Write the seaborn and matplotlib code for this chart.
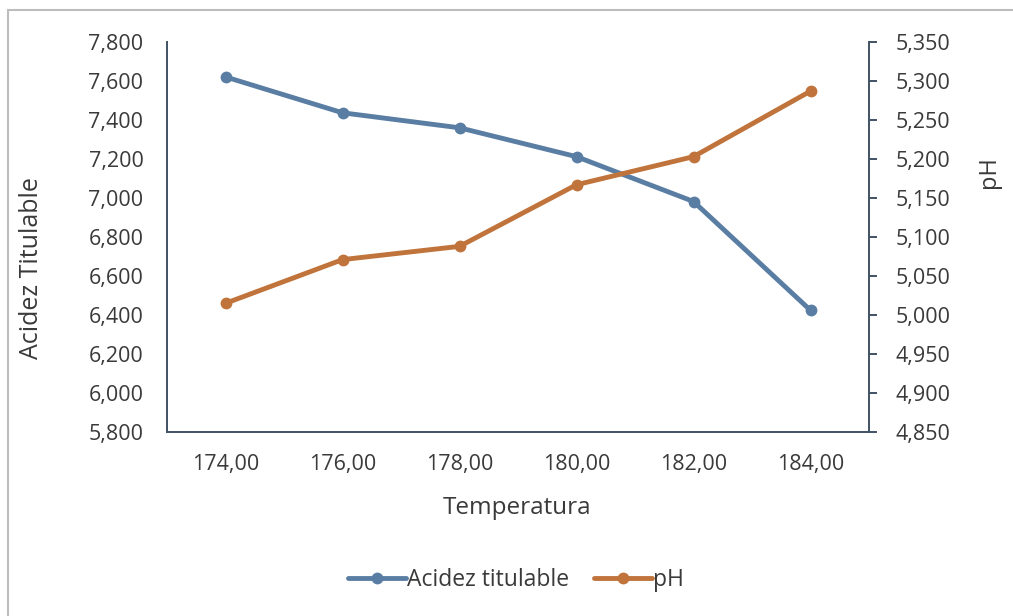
import matplotlib
matplotlib.use("Agg")
import matplotlib.pyplot as plt
import matplotlib.ticker as mticker
from matplotlib.lines import Line2D
import seaborn as sns
import pandas as pd

# Temperature levels and measured responses
temperatura = [174.0, 176.0, 178.0, 180.0, 182.0, 184.0]
acidez = [7.621, 7.437, 7.360, 7.212, 6.982, 6.424]
ph = [5.015, 5.071, 5.088, 5.167, 5.203, 5.287]

temp_labels = [f"{t:.2f}".replace(".", ",") for t in temperatura]

sns.set_theme(style="white")
plt.rcParams["font.family"] = ["Open Sans", "DejaVu Sans"]

blue = "#5a7ea3"
orange = "#c0743b"
spine_col = "#3f5263"
text_col = "#3a3a3a"

df = pd.DataFrame({"pos": range(len(temperatura)), "acidez": acidez, "ph": ph})

fig = plt.figure(figsize=(10.13, 6.16), dpi=100)
L, R, T, B = 167, 869, 42, 432
ax = fig.add_axes([L / 1013, 1 - B / 616, (R - L) / 1013, (B - T) / 616])
ax2 = ax.twinx()

sns.lineplot(data=df, x="pos", y="acidez", ax=ax, color=blue, lw=3.5,
             marker="o", markersize=8.5, markeredgewidth=0)
sns.lineplot(data=df, x="pos", y="ph", ax=ax2, color=orange, lw=3.5,
             marker="o", markersize=8.5, markeredgewidth=0)

ax.set_xlim(-0.5, len(temperatura) - 0.5)
ax.set_xticks(range(len(temperatura)))
ax.set_xticklabels(temp_labels)

ax.set_ylim(5.8, 7.8)
ax.yaxis.set_major_locator(mticker.MultipleLocator(0.2))
ax2.set_ylim(4.85, 5.35)
ax2.yaxis.set_major_locator(mticker.MultipleLocator(0.05))

comma3 = mticker.FuncFormatter(lambda v, p: f"{v:.3f}".replace(".", ","))
ax.yaxis.set_major_formatter(comma3)
ax2.yaxis.set_major_formatter(comma3)

for a in (ax, ax2):
    for s in a.spines.values():
        s.set_visible(False)
ax.spines["left"].set_visible(True)
ax.spines["bottom"].set_visible(True)
ax2.spines["right"].set_visible(True)
for s in (ax.spines["left"], ax.spines["bottom"], ax2.spines["right"]):
    s.set_color(spine_col)
    s.set_linewidth(1.4)

tick_fs = 15.5
ax.tick_params(axis="y", length=0, labelsize=tick_fs, labelcolor=text_col, pad=17)
ax.tick_params(axis="x", length=0, labelsize=tick_fs, labelcolor=text_col, pad=16)
ax2.tick_params(axis="y", length=6, width=1.4, color=spine_col, direction="out",
                labelsize=tick_fs, labelcolor=text_col, pad=13)

label_fs = 18
ax.set_xlabel("Temperatura", fontsize=17.5, color=text_col)
ax.set_ylabel("Acidez Titulable", fontsize=label_fs, color=text_col)
ax2.set_ylabel("pH", fontsize=17, color=text_col)
w, h = R - L, B - T
ax.xaxis.set_label_coords((517 - L) / w, (B - 496) / h)
ax.yaxis.set_label_coords((44 - L) / w, (B - 268) / h)
ax2.yaxis.set_label_coords((977 - L) / w, (B - 172) / h)

handles = [
    Line2D([], [], color=blue, lw=3.5, marker="o", markersize=8.5, markeredgewidth=0),
    Line2D([], [], color=orange, lw=3.5, marker="o", markersize=8.5, markeredgewidth=0),
]
fig.legend(handles, ["Acidez titulable", "pH"], loc="center",
           bbox_to_anchor=(516 / 1013, 1 - 580 / 616), ncol=2, frameon=False,
           fontsize=16.5, labelcolor=text_col, handlelength=2.5,
           handletextpad=0.05, columnspacing=1.1)

# light frame around the chart area
fig.add_artist(Line2D([8 / 1013, 8 / 1013], [0, 1 - 10 / 616], color="#bdbdbd",
                      lw=1.5, transform=fig.transFigure))
fig.add_artist(Line2D([8 / 1013, 1], [1 - 10 / 616, 1 - 10 / 616], color="#bdbdbd",
                      lw=1.5, transform=fig.transFigure))

fig.savefig("out.png", dpi=100)
